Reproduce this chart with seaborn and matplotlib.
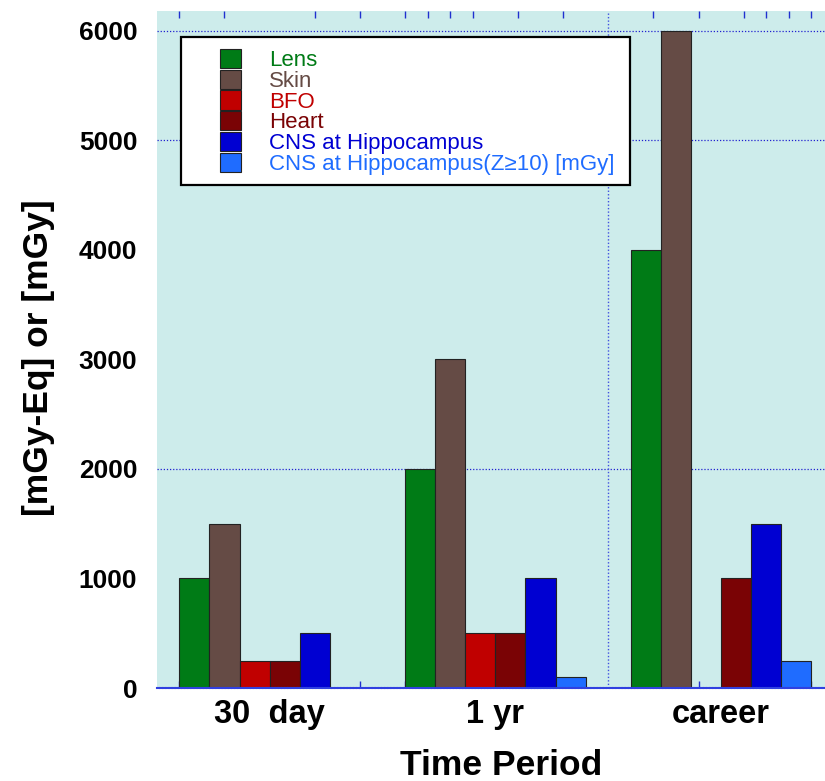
import pandas as pd
import matplotlib.pyplot as plt
import seaborn as sns
from matplotlib.patches import Rectangle
from matplotlib.ticker import MultipleLocator, FixedLocator

# Data
periods = ['30  day', '1 yr', 'career']
series = ['Lens', 'Skin', 'BFO', 'Heart', 'CNS at Hippocampus', 'CNS at Hippocampus(Z\u226510) [mGy]']
lens = [1000, 2000, 4000]
skin = [1500, 3000, 6000]
bfo = [250, 500, 0]
heart = [250, 500, 1000]
cns = [500, 1000, 1500]
cns_z10 = [0, 100, 250]
colors = ['#007b16', '#654b45', '#c00000', '#7a0305', '#0000d2', '#1f6cff']

# small x ticks along top/bottom edge (category units)
edge_ticks = [-0.4, -0.2, 0, 0.2, 0.4, 0.6, 0.7, 0.8, 0.9, 1.1, 1.3, 1.7, 1.9, 2.1, 2.2, 2.3, 2.4]

values = [lens, skin, bfo, heart, cns, cns_z10]
rows = []
for name, vals in zip(series, values):
    for p, v in zip(periods, vals):
        rows.append({'Period': p, 'Series': name, 'Dose': v})
df = pd.DataFrame(rows)

sns.set_style('white')
plt.rcParams['font.family'] = ['Liberation Sans', 'DejaVu Sans']
plt.rcParams['text.color'] = 'black'
plt.rcParams['axes.labelcolor'] = 'black'
plt.rcParams['xtick.labelcolor'] = 'black'
plt.rcParams['ytick.labelcolor'] = 'black'

fig = plt.figure(figsize=(8.25, 7.81), dpi=100)
ax = fig.add_axes([0.19, 0.119, 0.81, 0.867])
ax.set_facecolor('#cdeceb')

sns.barplot(data=df, x='Period', y='Dose', hue='Series', hue_order=series,
            palette=colors, order=periods, width=0.8, edgecolor='#222222',
            linewidth=0.8, saturation=1, ax=ax)

ax.set_xlim(-0.5, 2.46)
ax.set_ylim(0, 6180)
ax.yaxis.set_major_locator(MultipleLocator(1000))
ax.yaxis.set_minor_locator(MultipleLocator(500))
ax.xaxis.set_minor_locator(FixedLocator(edge_ticks))

# dotted grid lines as in the reference
for yv in [2000, 5000, 6000]:
    ax.axhline(yv, color='#2020d0', ls=(0, (1, 1.5)), lw=0.9, zorder=0)
ax.axvline(1.5, color='#4050e0', ls=(0, (1, 1.5)), lw=1.0, zorder=0)

for s in ['top', 'right', 'left']:
    ax.spines[s].set_visible(False)
ax.spines['bottom'].set_color('#3040e0')
ax.spines['bottom'].set_linestyle((0, (1, 0.5)))
ax.spines['bottom'].set_linewidth(1.5)

ax.tick_params(axis='y', which='both', direction='in', color='#2030d0',
               length=6, width=1, labelsize=19, pad=14)
ax.tick_params(axis='y', which='minor', length=4)
ax.tick_params(axis='x', which='major', length=0, labelsize=23.5, pad=8)
ax.tick_params(axis='x', which='minor', direction='in', color='#2030d0',
               length=5, width=1, top=True, bottom=True)
for lab in ax.get_yticklabels() + ax.get_xticklabels():
    lab.set_fontweight('bold')

ax.set_xlabel('Time Period', fontsize=25.5, fontweight='bold')
ax.xaxis.set_label_coords(0.515, -0.09)
ax.set_ylabel('[mGy-Eq] or [mGy]', fontsize=25.5, fontweight='bold')
ax.yaxis.set_label_coords(-0.153, 0.488)

# legend box drawn separately so the padding can match the reference
ax.add_patch(Rectangle((0.036, 0.743), 0.672, 0.2186, transform=ax.transAxes,
                       facecolor='white', edgecolor='black', lw=1.6, zorder=4))
handles, labels = ax.get_legend_handles_labels()
leg = ax.legend(handles, labels, loc='upper left', bbox_to_anchor=(0.0943, 0.944),
                fontsize=16, frameon=False, handlelength=0.95, handleheight=0.94,
                labelspacing=-0.06, handletextpad=1.25, borderpad=0, borderaxespad=0)
leg.set_zorder(5)
for txt, c in zip(leg.get_texts(), colors):
    txt.set_color(c)

plt.savefig('out.png', dpi=100)
